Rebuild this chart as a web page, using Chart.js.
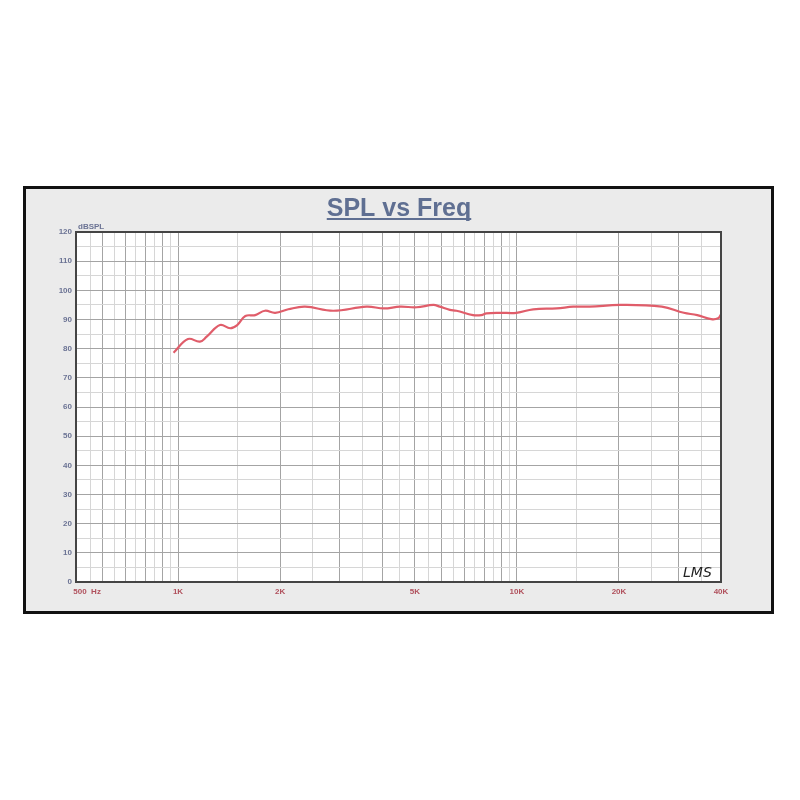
<!DOCTYPE html>
<html>
<head>
<meta charset="utf-8">
<title>SPL vs Freq</title>
<script src="https://cdn.jsdelivr.net/npm/chart.js@4.4.0/dist/chart.umd.min.js"></script>
<style>
  html, body { margin: 0; padding: 0; background: #fff; }
</style>
</head>
<body>
<canvas id="splChart" width="800" height="800"></canvas>
<script>
// frequency (Hz) and SPL (dB)
const freqs = [970, 1070, 1160, 1215, 1330, 1425, 1495, 1580, 1690, 1805, 1935, 2115, 2370, 2870,
  3600, 4050, 4520, 5060, 5670, 5920, 6340, 6630, 7420, 7850, 8130, 8900, 9970, 11170, 13100,
  14660, 16400, 20160, 26760, 31060, 34040, 37430, 39220, 40000];
const spl = [78.6, 83.3, 82.4, 84.1, 88.1, 87.0, 88.1, 91.2, 91.5, 93.0, 92.3, 93.5, 94.4, 93.0,
  94.4, 93.8, 94.4, 94.2, 95.0, 94.4, 93.3, 93.0, 91.5, 91.5, 92.1, 92.3, 92.3, 93.5, 93.8,
  94.4, 94.4, 95.0, 94.4, 92.3, 91.5, 90.1, 90.4, 91.7];

// x axis labels
const xLabelFreqs = [500, 1000, 2000, 5000, 10000, 20000, 40000];
const xLabelTexts = ['500  Hz', '1K', '2K', '5K', '10K', '20K', '40K'];

// y axis range
const yMin = 0, yMax = 120, yStep = 5;

// vertical grid lines: 50 Hz steps below 1K, 500 Hz to 10K, 5K above
const gridFreqs = [];
for (let f = 500; f <= 1000; f += 50) gridFreqs.push(f);
for (let f = 1500; f <= 10000; f += 500) gridFreqs.push(f);
for (let f = 15000; f <= 40000; f += 5000) gridFreqs.push(f);

function isMajorFreq(f) {
  const unit = f < 1000 ? 100 : (f < 10000 ? 1000 : 10000);
  return f % unit === 0;
}

const frame = {
  id: 'frame',
  beforeDraw(chart) {
    const { ctx, chartArea: a } = chart;
    ctx.save();
    ctx.fillStyle = '#ebebeb';
    ctx.fillRect(24, 187, 749, 426);
    ctx.lineWidth = 3;
    ctx.strokeStyle = '#111';
    ctx.strokeRect(24.5, 187.5, 748, 425);
    ctx.fillStyle = '#fff';
    ctx.fillRect(a.left, a.top, a.right - a.left, a.bottom - a.top);
    ctx.restore();
  },
  afterDraw(chart) {
    const { ctx, chartArea: a } = chart;
    ctx.save();
    // plot border
    ctx.lineWidth = 2;
    ctx.strokeStyle = '#444';
    ctx.strokeRect(a.left, a.top, a.right - a.left, a.bottom - a.top);

    // title, underlined
    ctx.font = 'bold 25px "Liberation Sans", Arial, sans-serif';
    ctx.fillStyle = '#5f6f92';
    ctx.textAlign = 'center';
    ctx.textBaseline = 'alphabetic';
    const title = 'SPL vs Freq';
    const cx = 399, by = 216;
    ctx.fillText(title, cx, by);
    const w = ctx.measureText(title).width;
    ctx.fillRect(cx - w / 2, by + 2, w, 2);

    // unit label
    ctx.font = 'bold 8px "Liberation Sans", Arial, sans-serif';
    ctx.fillStyle = '#6b7394';
    ctx.textAlign = 'left';
    ctx.fillText('dBSPL', a.left + 2, a.top - 3);

    // signature
    ctx.font = 'italic 14px "DejaVu Sans", sans-serif';
    ctx.fillStyle = '#222';
    ctx.fillText('LMS', a.right - 38, a.bottom - 5);
    ctx.restore();
  }
};

const ctx = document.getElementById('splChart').getContext('2d');
const splChart = new Chart(ctx, {
  type: 'line',
  data: {
    datasets: [{
      label: 'SPL',
      data: freqs.map((f, i) => ({ x: f, y: spl[i] })),
      borderColor: '#e05d6a',
      borderWidth: 2.2,
      pointRadius: 0,
      tension: 0.4,
      fill: false
    }]
  },
  options: {
    responsive: false,
    animation: false,
    layout: { padding: { left: 36, top: 232, right: 79, bottom: 194 } },
    plugins: {
      legend: { display: false },
      title: { display: false },
      tooltip: { enabled: false }
    },
    scales: {
      x: {
        type: 'logarithmic',
        min: 500,
        max: 40000,
        afterBuildTicks(scale) {
          scale.ticks = gridFreqs.map(v => ({ value: v }));
        },
        afterFit(scale) {
          scale.height = 24;
          scale.paddingLeft = 0;
          scale.paddingRight = 0;
        },
        grid: {
          drawTicks: false,
          color: c => (c.tick && isMajorFreq(c.tick.value)) ? '#a4a4a4' : '#d6d6d6',
          lineWidth: 1
        },
        border: { display: false },
        ticks: {
          autoSkip: false,
          maxRotation: 0,
          padding: 5,
          color: '#b0505c',
          font: { family: '"Liberation Sans", Arial, sans-serif', size: 8, weight: 'bold' },
          callback: v => {
            const k = xLabelFreqs.indexOf(v);
            // the first label sits to the right of its line
            if (k === 0) return '          ' + xLabelTexts[0];
            return k >= 0 ? xLabelTexts[k] : '';
          }
        }
      },
      y: {
        min: yMin,
        max: yMax,
        afterFit(scale) {
          scale.width = 40;
          scale.paddingTop = 0;
          scale.paddingBottom = 0;
        },
        grid: {
          drawTicks: false,
          color: c => (c.tick && c.tick.value % 10 === 0) ? '#a4a4a4' : '#d6d6d6',
          lineWidth: 1
        },
        border: { display: false },
        ticks: {
          stepSize: yStep,
          padding: 4,
          color: '#6b7394',
          font: { family: '"Liberation Sans", Arial, sans-serif', size: 8, weight: 'bold' },
          callback: v => (v % 10 === 0 ? v : '')
        }
      }
    }
  },
  plugins: [frame]
});
</script>
</body>
</html>
